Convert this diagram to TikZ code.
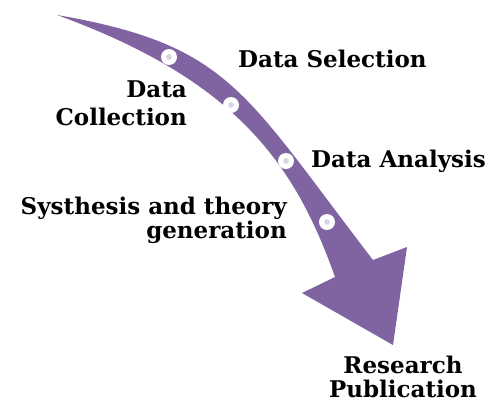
\documentclass[tikz,border=0pt]{standalone}
\usepackage{fontspec}
\setmainfont{DejaVu Serif}
\usepackage{xcolor}
\definecolor{flowpurple}{HTML}{8064A2}
\definecolor{dotgray}{HTML}{D6D3E4}
\tikzset{
  stop/.style={circle,fill=white,minimum size=16pt,inner sep=0pt,
    path picture={\fill[dotgray] (path picture bounding box.center) circle (2.8pt);}},
  stage/.style={font=\fontsize{23}{24}\selectfont\bfseries,inner sep=0pt}
}

\begin{document}
\begin{tikzpicture}[x=1pt,y=-1pt]
\useasboundingbox (0,0) rectangle (492,405);

% curved arrow
\fill[flowpurple] (57,15) .. controls (230,45) and (243,91) .. (373,260) -- (407,247) -- (393,345)
  -- (302,293) -- (335,277) .. controls (295,164) and (236,80) .. (57,15) -- cycle;

% stops on the arrow
\foreach \p [count=\i] in {(169,57),(231,105),(286,161),(327,222)}
  \node (stop\i) at \p [stop]{};

% labels (base = last line)
\node (sel) at (238,67)[stage,anchor=base west]{Data Selection};
\node (col) at (187,125)[stage,anchor=base east,align=right]{Data\\[4pt]Collection};
\node (ana) at (311,167)[stage,anchor=base west]{Data Analysis};
\node (syn) at (287,238)[stage,anchor=base east,align=right]{Systhesis and theory\\generation};
\node (pub) at (403,397)[stage,anchor=base,align=center]{Research\\Publication};
\end{tikzpicture}
\end{document}
